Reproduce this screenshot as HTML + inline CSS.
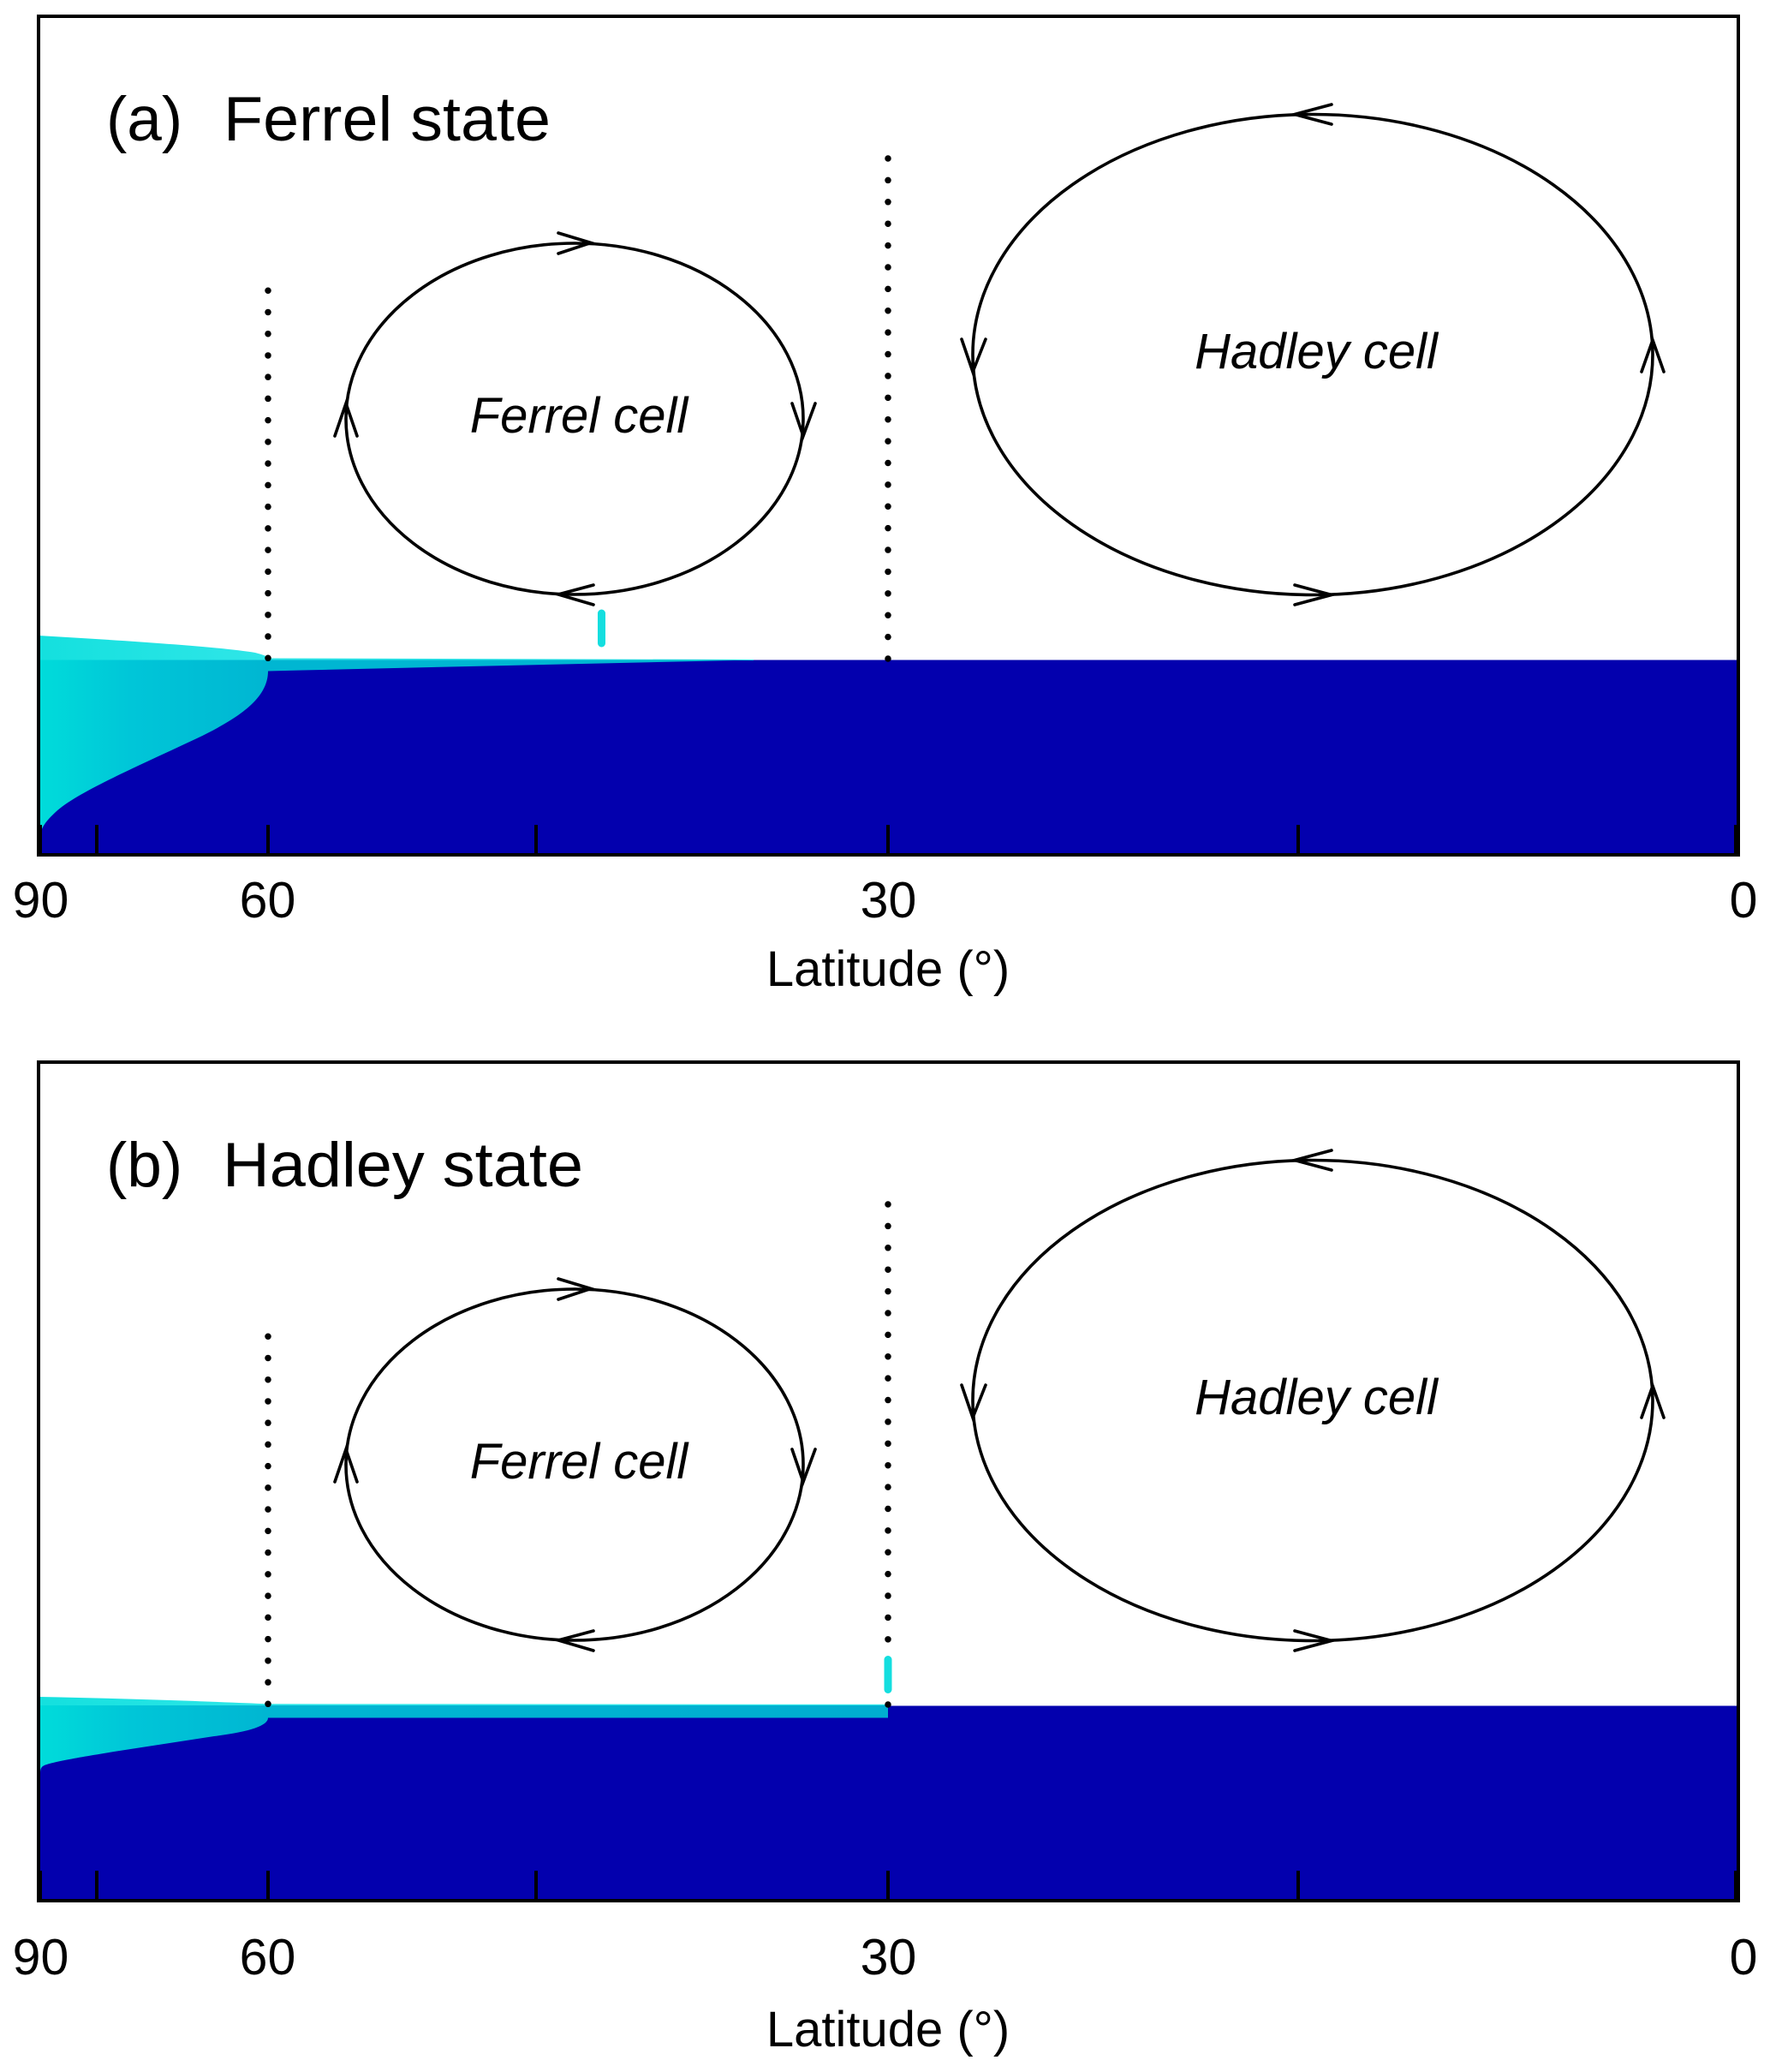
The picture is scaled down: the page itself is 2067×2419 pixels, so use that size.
<!DOCTYPE html>
<html>
<head>
<meta charset="utf-8">
<style>
html,body{margin:0;padding:0;background:#fff;}
svg{display:block;}
text{font-family:"Liberation Sans", Arial, sans-serif;fill:#000;}
</style>
</head>
<body>
<svg width="2067" height="2419" viewBox="0 0 2067 2419" xmlns="http://www.w3.org/2000/svg">
<defs>
  <linearGradient id="iceLow" gradientUnits="userSpaceOnUse" x1="45" y1="0" x2="313" y2="0">
    <stop offset="0" stop-color="#00DCDA"/>
    <stop offset="0.4" stop-color="#00C6D8"/>
    <stop offset="1" stop-color="#00B6D2"/>
  </linearGradient>
  <linearGradient id="iceUp" gradientUnits="userSpaceOnUse" x1="45" y1="0" x2="313" y2="0">
    <stop offset="0" stop-color="#14E0DE"/>
    <stop offset="1" stop-color="#30E6E8"/>
  </linearGradient>
  <linearGradient id="band" gradientUnits="userSpaceOnUse" x1="313" y1="0" x2="1037" y2="0">
    <stop offset="0" stop-color="#00B6D2"/>
    <stop offset="1" stop-color="#00AED0"/>
  </linearGradient>
</defs>

<!-- ================= PANEL A ================= -->
<rect x="45" y="770.5" width="1985" height="228" fill="#0300AE"/>
<path d="M45,742 C150,748 255,755 298,762 Q310,765 316,768.5 L880,770 L880,771 L45,771 Z" fill="url(#iceUp)"/>
<path d="M45,770.5 L880,770.5 Q600,776.7 313,783.5 C313,815 280,838 230,862 C160,895 90,925 65,948 C52,960 47,968 47,978 L45,978 Z" fill="url(#iceLow)"/>

<path d="M313,768.3 V339" stroke="#000" stroke-width="7.5" stroke-linecap="round" stroke-dasharray="0 25.24" fill="none"/>
<path d="M1037,769 V185" stroke="#000" stroke-width="7.5" stroke-linecap="round" stroke-dasharray="0 25.39" fill="none"/>

<line x1="702.5" y1="716" x2="702.5" y2="751" stroke="#14DEDF" stroke-width="9" stroke-linecap="round"/>

<ellipse cx="671" cy="489" rx="267" ry="205" fill="none" stroke="#000" stroke-width="3.6"/>
<g fill="none" stroke="#000" stroke-width="3.6" stroke-linecap="round" stroke-linejoin="miter">
  <polyline points="652,272 690,283.5 652,296"/>
  <polyline points="693,683 652,694 693,706"/>
  <polyline points="391,509 404,471 417,509"/>
  <polyline points="925,471 938,509 952,471"/>
</g>
<text x="676" y="505" font-size="58" font-style="italic" text-anchor="middle">Ferrel cell</text>

<ellipse cx="1533" cy="414" rx="397" ry="280.5" fill="none" stroke="#000" stroke-width="3.6"/>
<g fill="none" stroke="#000" stroke-width="3.6" stroke-linecap="round">
  <polyline points="1555,122 1512,133.5 1555,145"/>
  <polyline points="1512,683 1555,694.5 1512,706"/>
  <polyline points="1123,396 1136,434 1151,396"/>
  <polyline points="1917,434 1930,397 1943,434"/>
</g>
<text x="1537" y="430" font-size="58" font-style="italic" text-anchor="middle">Hadley cell</text>

<text x="124" y="164" font-size="73">(a)</text>
<text x="261" y="164" font-size="73" textLength="382" lengthAdjust="spacingAndGlyphs">Ferrel state</text>

<g stroke="#000" stroke-width="4">
  <line x1="47" y1="963" x2="47" y2="998"/>
  <line x1="113" y1="963" x2="113" y2="998"/>
  <line x1="313" y1="963" x2="313" y2="998"/>
  <line x1="626" y1="963" x2="626" y2="998"/>
  <line x1="1037" y1="963" x2="1037" y2="998"/>
  <line x1="1516" y1="963" x2="1516" y2="998"/>
  <line x1="2027" y1="963" x2="2027" y2="998"/>
</g>
<rect x="45" y="19" width="1985" height="979" fill="none" stroke="#000" stroke-width="4"/>

<g font-size="59" text-anchor="middle">
  <text x="47.5" y="1071">90</text>
  <text x="312.5" y="1071">60</text>
  <text x="1037.5" y="1071">30</text>
  <text x="2036" y="1071">0</text>
</g>
<text x="1037" y="1151" font-size="58" text-anchor="middle">Latitude (°)</text>

<!-- ================= PANEL B ================= -->
<rect x="45" y="1991.5" width="1985" height="228" fill="#0300AE"/>
<path d="M45,1981 C150,1983 260,1987 313,1989.3 L1037,1989.8 L1037,1991.5 L45,1991.5 Z" fill="url(#iceUp)"/>
<rect x="313" y="1991" width="724" height="14.5" fill="url(#band)"/>
<path d="M45,1991 L313,1991 L313,2005.5 C313,2015 290,2022 250,2027 L133,2045 C90,2052 55,2058 50,2062 C47,2064 47,2068 47,2071 L45,2071 Z" fill="url(#iceLow)"/>

<path d="M313,1989.3 V1560" stroke="#000" stroke-width="7.5" stroke-linecap="round" stroke-dasharray="0 25.24" fill="none"/>
<path d="M1037,1990 V1406" stroke="#000" stroke-width="7.5" stroke-linecap="round" stroke-dasharray="0 25.39" fill="none"/>

<line x1="1037" y1="1937.5" x2="1037" y2="1972.5" stroke="#14DEDF" stroke-width="9" stroke-linecap="round"/>

<g transform="translate(0,1221)">
  <ellipse cx="671" cy="489" rx="267" ry="205" fill="none" stroke="#000" stroke-width="3.6"/>
  <g fill="none" stroke="#000" stroke-width="3.6" stroke-linecap="round">
    <polyline points="652,272 690,283.5 652,296"/>
    <polyline points="693,683 652,694 693,706"/>
    <polyline points="391,509 404,471 417,509"/>
    <polyline points="925,471 938,509 952,471"/>
  </g>
  <text x="676" y="505" font-size="58" font-style="italic" text-anchor="middle">Ferrel cell</text>

  <ellipse cx="1533" cy="414" rx="397" ry="280.5" fill="none" stroke="#000" stroke-width="3.6"/>
  <g fill="none" stroke="#000" stroke-width="3.6" stroke-linecap="round">
    <polyline points="1555,122 1512,133.5 1555,145"/>
    <polyline points="1512,683 1555,694.5 1512,706"/>
    <polyline points="1123,396 1136,434 1151,396"/>
    <polyline points="1917,434 1930,397 1943,434"/>
  </g>
  <text x="1537" y="430" font-size="58" font-style="italic" text-anchor="middle">Hadley cell</text>

  <text x="124" y="164" font-size="73">(b)</text>
  <text x="260" y="164" font-size="73" textLength="421" lengthAdjust="spacingAndGlyphs">Hadley state</text>

  <g stroke="#000" stroke-width="4">
    <line x1="47" y1="963" x2="47" y2="998"/>
    <line x1="113" y1="963" x2="113" y2="998"/>
    <line x1="313" y1="963" x2="313" y2="998"/>
    <line x1="626" y1="963" x2="626" y2="998"/>
    <line x1="1037" y1="963" x2="1037" y2="998"/>
    <line x1="1516" y1="963" x2="1516" y2="998"/>
    <line x1="2027" y1="963" x2="2027" y2="998"/>
  </g>
  <rect x="45" y="19" width="1985" height="979" fill="none" stroke="#000" stroke-width="4"/>
</g>

<g font-size="59" text-anchor="middle">
  <text x="47.5" y="2305">90</text>
  <text x="312.5" y="2305">60</text>
  <text x="1037.5" y="2305">30</text>
  <text x="2036" y="2305">0</text>
</g>
<text x="1037" y="2389" font-size="58" text-anchor="middle">Latitude (°)</text>
</svg>
</body>
</html>
